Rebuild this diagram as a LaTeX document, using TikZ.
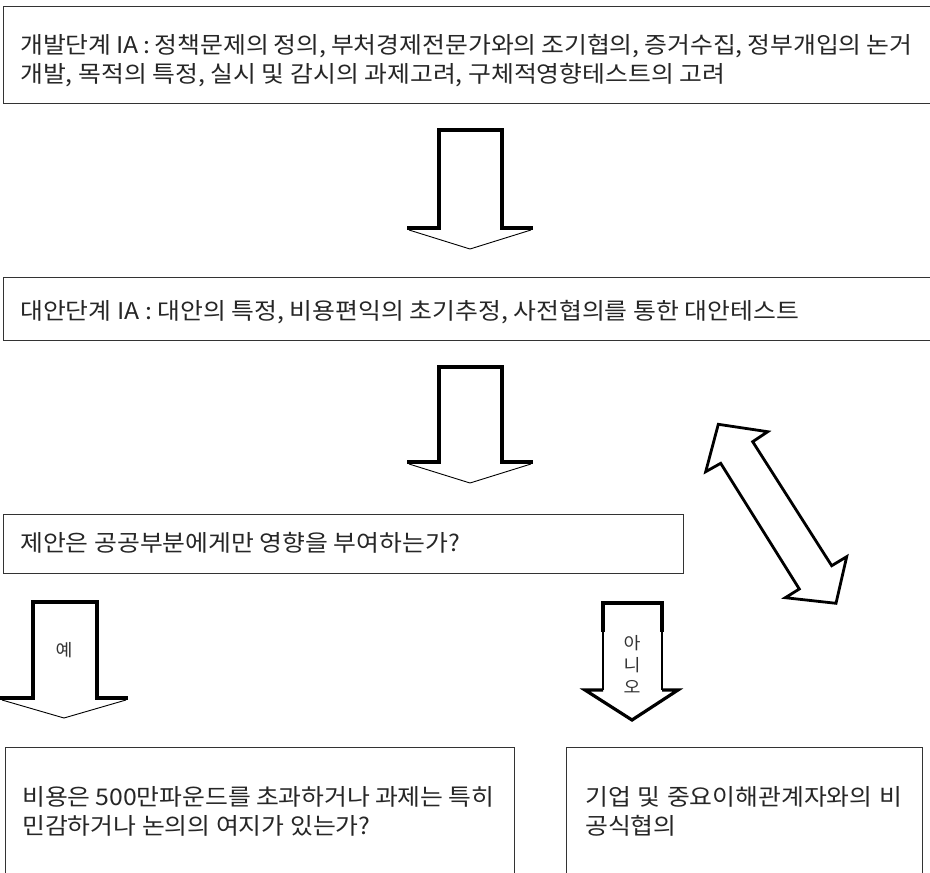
\documentclass[tikz,border=0pt]{standalone}
\usepackage{fontspec}
\setmainfont[FakeStretch=1.08]{Noto Sans CJK KR}
\begin{document}
\begin{tikzpicture}[x=1pt,y=-1pt,
  box/.style={draw=black!80, line width=0.9pt, anchor=north west, inner sep=0pt, fill=none},
  txt/.style={anchor=base west, inner sep=0pt, text=black!85, font=\fontsize{23}{29}\selectfont},
  lbl/.style={inner sep=0pt, text=black!80, font=\fontsize{17}{20}\selectfont},
  thick shaft/.style={line width=3.2pt, line cap=butt, line join=miter},
  thin head/.style={line width=0.9pt},
  dbl/.style={line width=2.8pt, line join=miter}]
\useasboundingbox (0,0) rectangle (930,873);
\clip (0,0) rectangle (930,873);
\fill[white] (0,0) rectangle (930,873);

% boxes
\node[box, minimum width=937pt, minimum height=97pt] (b1) at (3,6) {};
\node[box, minimum width=937pt, minimum height=63pt] (b2) at (3,277) {};
\node[box, minimum width=680pt, minimum height=59pt] (b3) at (3,514) {};
\node[box, minimum width=509pt, minimum height=150pt] (b4) at (5,747) {};
\node[box, minimum width=356pt, minimum height=150pt] (b5) at (566,747) {};

% texts
\node[txt] (t1a) at (20,53) {\makebox[892pt][s]{개발단계 IA : 정책문제의 정의, 부처경제전문가와의 조기협의, 증거수집, 정부개입의 논거}};
\node[txt] (t1b) at (20,82) {개발, 목적의 특정, 실시 및 감시의 과제고려, 구체적영향테스트의 고려};
\node[txt] (t2) at (20,319) {대안단계 IA : 대안의 특정, 비용편익의 초기추정, 사전협의를 통한 대안테스트};
\node[txt] (t3) at (20,551) {제안은 공공부분에게만 영향을 부여하는가?};
\node[txt] (t4a) at (22,805) {\makebox[472pt][s]{비용은 500만파운드를 초과하거나 과제는 특히}};
\node[txt] (t4b) at (22,834) {민감하거나 논의의 여지가 있는가?};
\node[txt] (t5a) at (585,805) {\makebox[317pt][s]{기업 및 중요이해관계자와의 비}};
\node[txt] (t5b) at (585,834) {공식협의};

% block arrow 1
\draw[thick shaft] (407,228) -- (439,228) -- (439,130) -- (502,130) -- (502,228) -- (533,228);
\draw[thin head] (409,230) -- (470,249) -- (531,230);

% block arrow 2
\draw[thick shaft] (407,462) -- (439,462) -- (439,367) -- (502,367) -- (502,462) -- (533,462);
\draw[thin head] (409,464) -- (470,483) -- (531,464);

% block arrow yes
\draw[thick shaft] (0,698) -- (33,698) -- (33,602) -- (97,602) -- (97,698) -- (128,698);
\draw[thin head] (2,700) -- (64,718) -- (126,700);
\node[lbl] (yes) at (64,650) {예};

% block arrow no
\draw[thick shaft] (603,632) -- (603,603) -- (662,603) -- (662,632);
\draw[line width=1.6pt] (603,632) -- (603,690) (662,632) -- (662,690);
\draw[line width=3.2pt, line join=miter] (603,690) -- (585,690) -- (632,720) -- (678,690) -- (662,690);
\node[lbl] (no1) at (632,643) {아};
\node[lbl] (no2) at (632,665) {니};
\node[lbl] (no3) at (632,687) {오};

% double arrow
\draw[dbl] (718.3,424.3) -- (767.7,431.7) -- (752.7,441.7) -- (831.7,565.7) -- (846.7,556.7)
  -- (836,603.3) -- (785.3,597.7) -- (799.3,589) -- (720.7,463.3) -- (705.7,471.7) -- cycle;
\end{tikzpicture}
\end{document}
